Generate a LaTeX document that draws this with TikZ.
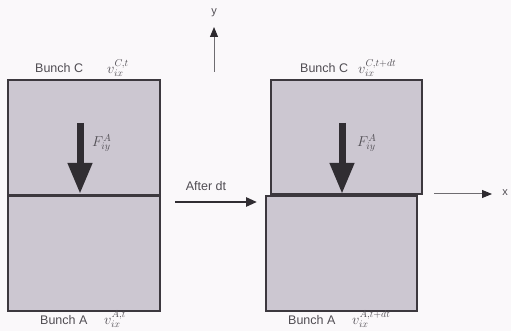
\documentclass[tikz,border=0pt]{standalone}
\usepackage{fontspec}
\setmainfont{Liberation Sans}
\usetikzlibrary{arrows.meta}
\definecolor{bg}{RGB}{250,248,250}
\definecolor{boxfill}{RGB}{204,199,209}
\definecolor{edge}{RGB}{60,56,62}
\definecolor{txt}{RGB}{80,77,83}
\definecolor{axis}{RGB}{110,108,112}
\definecolor{tip}{RGB}{45,42,47}
\begin{document}
\begin{tikzpicture}[x=1pt,y=-1pt,
  bunch/.style={draw=edge,fill=boxfill,line width=1.4pt,inner sep=0pt},
  lbl/.style={text=txt,font=\fontsize{12.5}{14}\selectfont,inner sep=0pt,anchor=west},
  mlbl/.style={text=txt,font=\fontsize{14}{16}\selectfont,inner sep=0pt,anchor=west},
  force/.style={draw=edge!80!black,line width=7pt,-{Triangle[width=23pt,length=31pt]}},
  move/.style={draw=edge!80!black,line width=2.6pt,-{Triangle[width=9pt,length=11pt]}},
  ax/.style={draw=axis,line width=1pt,-{Triangle[width=8pt,length=10pt,color=tip,fill=tip]}}]
\fill[bg] (0,0) rectangle (511,331);
\useasboundingbox (0,0) rectangle (511,331);
% left boxes
\node[bunch,minimum width=152pt,minimum height=115pt] (LC) at (84,137.5) {};
\node[bunch,minimum width=152pt,minimum height=116pt] (LA) at (84,253) {};
\draw[edge,line width=3pt] (LC.south west) -- (LC.south east);
% right boxes
\node[bunch,minimum width=151pt,minimum height=114pt] (RC) at (346.5,137) {};
\node[bunch,minimum width=151pt,minimum height=115pt] (RA) at (341.5,253.5) {};
% labels
\node[lbl] (lct) at (35,68) {Bunch C};
\node[mlbl] (lcv) at (107,68) {$v^{C,t}_{ix}$};
\node[lbl] (rct) at (300,68) {Bunch C};
\node[mlbl] (rcv) at (358,68) {$v^{C,t+dt}_{ix}$};
\node[lbl] (lat) at (40,320) {Bunch A};
\node[mlbl] (lav) at (104,319) {$v^{A,t}_{ix}$};
\node[lbl] (rat) at (288,320) {Bunch A};
\node[mlbl] (rav) at (352,319) {$v^{A,t+dt}_{ix}$};
% forces
\coordinate (f1s) at (80,123);
\coordinate (f1e) at (80,194);
\draw[force] (f1s) -- (f1e);
\node[mlbl] (f1l) at (92,143) {$F^{A}_{iy}$};
\coordinate (f2s) at (342,123);
\coordinate (f2e) at (342,194);
\draw[force] (f2s) -- (f2e);
\node[mlbl] (f2l) at (357,143) {$F^{A}_{iy}$};
% after dt
\node[text=txt,font=\fontsize{12.5}{14}\selectfont,inner sep=0pt] (adt) at (206,186) {After dt};
\coordinate (m1) at (175,202);
\coordinate (m2) at (257,202);
\draw[move] (m1) -- (m2);
% axes
\coordinate (yb) at (214,72);
\coordinate (yt) at (214,27);
\node[text=txt,font=\fontsize{11}{12}\selectfont,inner sep=0pt] (ylab) at (214,13) {y};
\draw[ax] (yb) -- (yt);
\coordinate (xb) at (434,194);
\coordinate (xt) at (492,194);
\node[text=txt,font=\fontsize{11}{12}\selectfont,inner sep=0pt] (xlab) at (505,193) {x};
\draw[ax] (xb) -- (xt);
\end{tikzpicture}
\end{document}
